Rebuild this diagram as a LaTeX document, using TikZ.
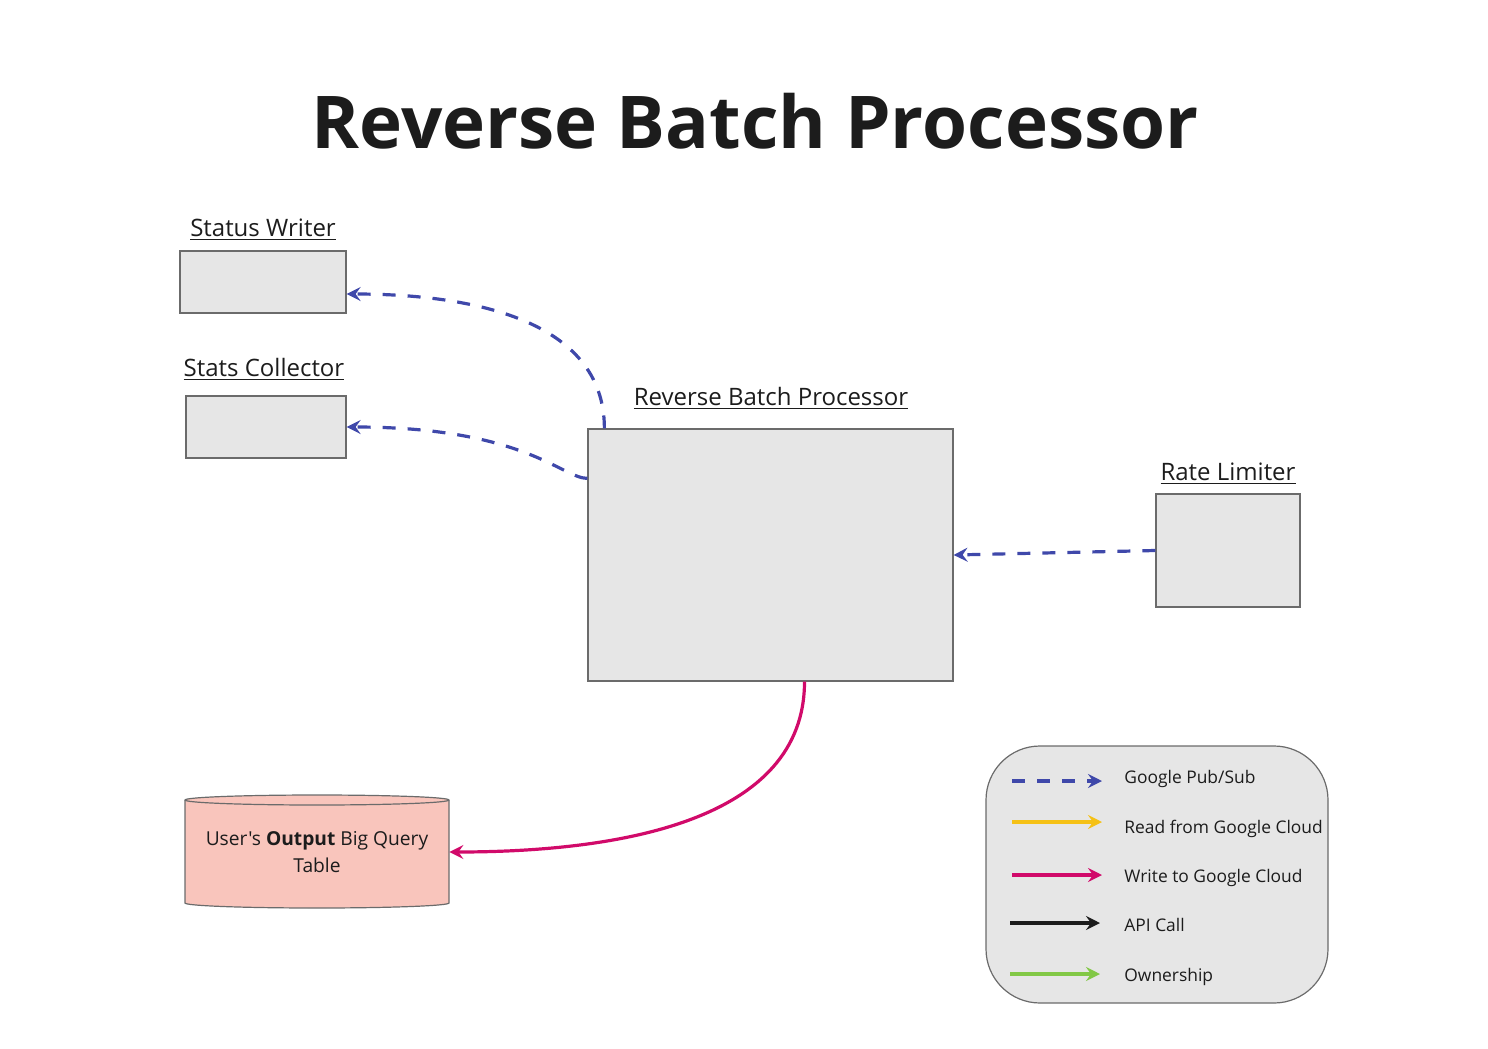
\documentclass[tikz,border=0pt]{standalone}
\usepackage{fontspec}
\setmainfont{Open Sans}[Ligatures=TeXOff]
\usetikzlibrary{arrows.meta,positioning}

\definecolor{boxgray}{HTML}{E6E6E6}
\definecolor{edgegray}{HTML}{6B6B6B}
\definecolor{inkblack}{HTML}{1C1C1C}
\definecolor{pubsubblue}{HTML}{3F48AA}
\definecolor{readyellow}{HTML}{F5C116}
\definecolor{writepink}{HTML}{D10A6A}
\definecolor{ownergreen}{HTML}{82C846}
\definecolor{dbsalmon}{HTML}{F9C5BC}

\tikzset{
  svc/.style={draw=edgegray, line width=0.6pt, fill=boxgray, inner sep=0pt},
  svclabel/.style={font=\fontsize{12}{14}\selectfont, text=inkblack, inner sep=0pt, anchor=base},
  legtext/.style={font=\fontsize{8.7}{10.5}\selectfont, text=inkblack, inner sep=0pt, anchor=west, text height=6.5pt, text depth=1.5pt},
  flow/.style={line width=1.6pt, -{Stealth[length=7pt,width=7pt,inset=2.5pt]}},
  pubsub/.style={flow, pubsubblue, dash pattern=on 6.5pt off 6pt},
  readflow/.style={flow, readyellow},
  writeflow/.style={flow, writepink},
  apiflow/.style={flow, inkblack},
  ownflow/.style={flow, ownergreen}
}

\begin{document}
\begin{tikzpicture}[x=0.5pt, y=-0.5pt]
        \useasboundingbox (0,0) rectangle (1488,1049);

        % Title
        \node[font=\fontsize{36.4}{44}\selectfont\bfseries, text=inkblack, anchor=base, inner sep=0pt] (title) at (755,148) {Reverse Batch Processor};

        % Services
        \node[svc, minimum width=83pt, minimum height=31pt] at (263,282) (writer) {};
        \node[svclabel] at (263,236) (writerlbl) {\underline{Status Writer}};

        \node[svc, minimum width=80pt, minimum height=31pt] at (266,427) (stats) {};
        \node[svclabel] at (264,376) (statslbl) {\underline{Stats Collector}};

        \node[svc, minimum width=182.5pt, minimum height=126pt] at (770.5,555) (rbp) {};
        \node[svclabel] at (771,405) (rbplbl) {\underline{Reverse Batch Processor}};

        \node[svc, minimum width=72pt, minimum height=56.5pt] at (1228,550.5) (limiter) {};
        \node[svclabel] at (1228,480) (limiterlbl) {\underline{Rate Limiter}};

        % Output table (cylinder)
        \filldraw[fill=dbsalmon, draw=edgegray, line width=0.6pt]
          (185,800) -- (185,903) arc[start angle=180, end angle=360, x radius=66pt, y radius=2.5pt]
          -- (449,800) arc[start angle=0, end angle=180, x radius=66pt, y radius=2.5pt] -- cycle;
        \draw[edgegray, line width=0.6pt] (185,800) arc[start angle=180, end angle=360, x radius=66pt, y radius=2.5pt];
        \node[minimum width=132pt, minimum height=50pt, inner sep=0pt, align=center,
              font=\fontsize{9.6}{13.5}\selectfont, text=inkblack] at (317,852) (db) {User's \textbf{Output} Big Query\\Table};

        % Pub/Sub connectors
        \draw[pubsub] ([xshift=8.5pt]rbp.north west) .. controls +(0,-109) and +(124,0) .. ([yshift=-6pt]writer.east);
        \draw[pubsub] ([yshift=-25pt]rbp.north west) .. controls +(-25,0) and +(178,0) .. (stats.east);
        \draw[pubsub] (limiter.west) -- (rbp.east);

        % Write to Google Cloud
        \draw[writeflow] ([xshift=17pt]rbp.south) .. controls +(0,139) and +(171,0) .. (db.east);

        % Legend
        \node[draw=edgegray, line width=0.6pt, fill=boxgray, rounded corners=27pt,
              minimum width=171pt, minimum height=128.5pt] at (1157,874.5) (legend) {};
        \node[legtext] at (1124,778) (lgpub) {Google Pub/Sub};
        \node[legtext] at (1124,828) (lgread) {Read from Google Cloud};
        \node[legtext] at (1124,877) (lgwrite) {Write to Google Cloud};
        \node[legtext] at (1124,926) (lgapi) {API Call};
        \node[legtext] at (1124,976) (lgown) {Ownership};

        \draw[pubsub] ([xshift=-56pt,yshift=-1.5pt]lgpub.west) -- ([xshift=-11pt,yshift=-1.5pt]lgpub.west);
        \draw[readflow] ([xshift=-56pt,yshift=3pt]lgread.west) -- ([xshift=-11pt,yshift=3pt]lgread.west);
        \draw[writeflow] ([xshift=-56pt,yshift=1pt]lgwrite.west) -- ([xshift=-11pt,yshift=1pt]lgwrite.west);
        \draw[apiflow] ([xshift=-57pt,yshift=1.5pt]lgapi.west) -- ([xshift=-12pt,yshift=1.5pt]lgapi.west);
        \draw[ownflow] ([xshift=-57pt,yshift=1pt]lgown.west) -- ([xshift=-12pt,yshift=1pt]lgown.west);
\end{tikzpicture}
\end{document}
